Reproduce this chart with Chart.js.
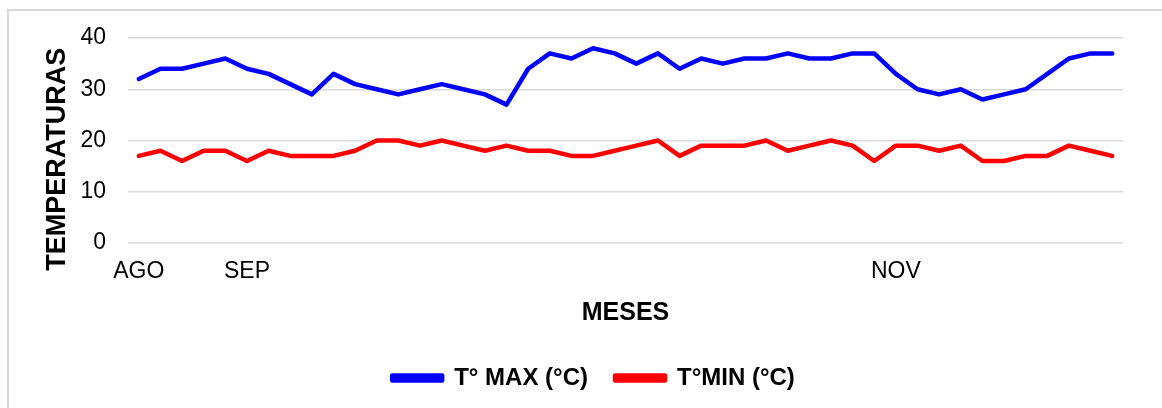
<!DOCTYPE html>
<html>
<head>
<meta charset="utf-8">
<script src="https://cdn.jsdelivr.net/npm/chart.js@4/dist/chart.umd.min.js"></script>
<style>
  html, body { margin: 0; padding: 0; background: #fff; }
  #wrap { position: relative; width: 1162px; height: 408px; overflow: hidden; }
  #frame { position: absolute; left: 7px; top: 9px; width: 1200px; height: 450px; border: 2px solid #d9d9d9; box-sizing: border-box; }
  #c { position: absolute; left: 0; top: 0; }
</style>
</head>
<body>
<div id="wrap">
  <div id="frame"></div>
  <canvas id="c" width="1162" height="408"></canvas>
</div>
<script>
const categories = ["AGO","","","","","SEP","","","","","","","","","","","","","","","","","","","","","","","","","","","","","","NOV","","","","","","","","","",""];
const tMax = [32,34,34,35,36,34,33,31,29,33,31,30,29,30,31,30,29,27,34,37,36,38,37,35,37,34,36,35,36,36,37,36,36,37,37,33,30,29,30,28,29,30,33,36,37,37];
const tMin = [17,18,16,18,18,16,18,17,17,17,18,20,20,19,20,19,18,19,18,18,17,17,18,19,20,17,19,19,19,20,18,19,20,19,16,19,19,18,19,16,16,17,17,19,18,17];
const yTicks = [0,10,20,30,40];
const seriesNames = ["T° MAX (°C)", "T°MIN (°C)"];

const FONT = "'Liberation Sans', Arial, sans-serif";

new Chart(document.getElementById('c'), {
  type: 'line',
  data: {
    labels: categories,
    datasets: [
      { label: seriesNames[0], data: tMax, borderColor: '#0000ff', backgroundColor: '#0000ff', borderWidth: 4.5, pointRadius: 0, tension: 0, borderJoinStyle: 'round', borderCapStyle: 'round' },
      { label: seriesNames[1], data: tMin, borderColor: '#ff0000', backgroundColor: '#ff0000', borderWidth: 4.5, pointRadius: 0, tension: 0, borderJoinStyle: 'round', borderCapStyle: 'round' }
    ]
  },
  options: {
    responsive: false,
    animation: false,
    devicePixelRatio: 1,
    layout: { padding: { left: 64, right: 39, top: 38, bottom: 8 } },
    plugins: {
      tooltip: { enabled: false },
      legend: {
        position: 'bottom',
        labels: {
          color: '#000',
          font: { family: FONT, size: 24, weight: 'bold' },
          boxWidth: 50,
          boxHeight: 5,
          padding: 27
        }
      }
    },
    scales: {
      x: {
        offset: true,
        grid: { display: false },
        border: { display: false },
        ticks: { color: '#000', font: { family: FONT, size: 23 }, padding: 7, autoSkip: false, maxRotation: 0 },
        title: { display: true, text: 'MESES', color: '#000', font: { family: FONT, size: 25, weight: 'bold' }, padding: { top: 0, bottom: 11 } },
        afterFit: (s) => { s.height = 96; }
      },
      y: {
        min: 0, max: 40,
        afterBuildTicks: (s) => { s.ticks = yTicks.map(v => ({ value: v })); },
        grid: { color: '#d9d9d9', lineWidth: 1.5, drawTicks: false },
        border: { display: false },
        ticks: { color: '#000', font: { family: FONT, size: 23 }, padding: 22 },
        title: { display: true, text: 'TEMPERATURAS\u00a0\u00a0\u00a0\u00a0\u00a0', color: '#000', font: { family: FONT, size: 27, weight: 'bold' }, padding: { top: -23, bottom: 0 } },
        afterFit: (s) => { s.width = 64; }
      }
    }
  }
});
</script>
</body>
</html>
